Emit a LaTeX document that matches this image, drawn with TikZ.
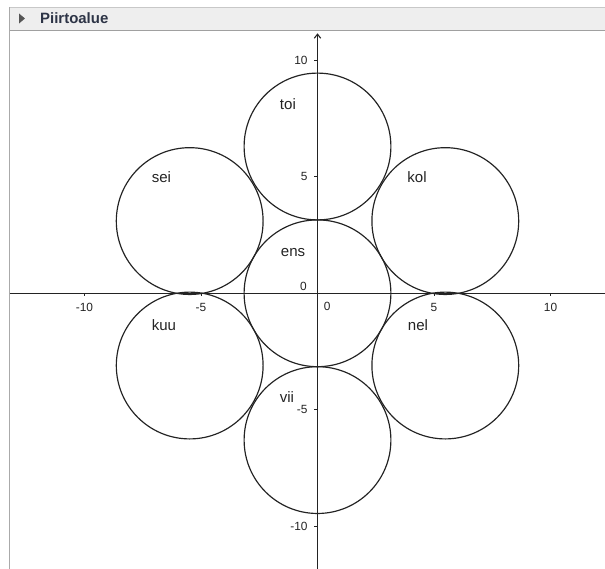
\documentclass[tikz,border=0pt]{standalone}
\usepackage{fontspec}
\setmainfont{Liberation Sans}
\usetikzlibrary{arrows.meta,positioning}
\definecolor{ink}{RGB}{35,35,35}
\definecolor{barfill}{RGB}{238,238,238}
\definecolor{barline}{RGB}{200,200,200}
\definecolor{frameline}{RGB}{170,170,170}
\definecolor{titletext}{RGB}{45,52,70}
\definecolor{arrowgray}{RGB}{85,85,85}
\tikzset{
  ympyra/.style={draw=ink,line width=1.15pt},
  akseli/.style={draw=ink,line width=1.05pt},
  tick/.style={draw=ink,line width=0.9pt},
  nimi/.style={font=\fontsize{14.7}{16}\selectfont,text=ink,inner sep=0pt},
  luku/.style={font=\fontsize{11.6}{13}\selectfont,text=ink,inner sep=0pt},
}
\newcommand{\sade}{3.15}

\begin{document}
\begin{tikzpicture}[x=0.8cm,y=0.8cm]
  \useasboundingbox (-13.627,-11.833) rectangle (12.339,12.588);
  % title bar of the view
  \fill[barfill] (-13.219,11.279) rectangle (12.339,12.288);
  \draw[barline,line width=0.9pt] (-13.219,12.288) -- (12.339,12.288);
  \draw[barline!80!black,line width=0.9pt] (-13.219,11.279) -- (12.339,11.279);
  \draw[frameline,line width=1.5pt] (-13.219,12.288) -- (-13.219,-11.833);
  \fill[arrowgray] (-12.811,12.009) -- (-12.811,11.579) -- (-12.554,11.794) -- cycle;
  \node[anchor=west,inner sep=0pt,text=titletext,
    font=\fontsize{14.6}{16}\selectfont\bfseries] (otsikko) at (-11.91,11.79) {Piirtoalue};
  % axes
  \draw[akseli] (-13.219,0) -- (12.339,0);
  \draw[akseli,-{Straight Barb[length=1.4mm,width=2.2mm]}] (0,-11.833) -- (0,11.159);
  \foreach \t in {-10,-5,5,10} {
    \draw[tick] (\t,0) -- (\t,-0.13);
    \node[luku] (xl\t) at (\t,-0.59) {\t};
    \draw[tick] (0,\t) -- (-0.13,\t);
    \node[luku,anchor=east] (yl\t) at (-0.42,\t) {\t};
  }
  \node[luku] (nolla1) at (-0.60,0.29) {0};
  \node[luku] (nolla2) at (0.41,-0.57) {0};
  % circles
  \foreach \n/\px/\py in {ens/0/0,toi/0/6.3,vii/0/-6.3,
      kol/5.485/3.1,nel/5.485/-3.1,sei/-5.485/3.1,kuu/-5.485/-3.1} {
    \coordinate (\n) at (\px,\py);
    \draw[ympyra] (\n) circle[radius=\sade];
  }
  % names
  \node[nimi] (toiN) at (-1.27,8.12) {toi};
  \node[nimi] (seiN) at (-6.70,4.98) {sei};
  \node[nimi] (kolN) at (4.27,4.98) {kol};
  \node[nimi] (ensN) at (-1.05,1.77) {ens};
  \node[nimi] (kuuN) at (-6.59,-1.38) {kuu};
  \node[nimi] (nelN) at (4.31,-1.38) {nel};
  \node[nimi] (viiN) at (-1.31,-4.45) {vii};
\end{tikzpicture}
\end{document}
